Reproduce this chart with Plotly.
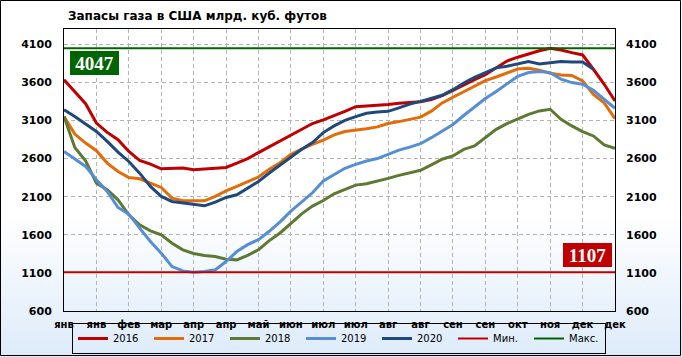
import plotly.graph_objects as go

# ---------------- data (weekly storage, Bcf) ----------------
tick_labels = ["янв", "янв", "фев", "мар", "апр", "апр", "май", "июн", "июл",
               "июл", "авг", "авг", "сен", "сен", "окт", "ноя", "дек", "дек"]

s2016 = [3635, 3482, 3320, 3066, 2943, 2847, 2694, 2576, 2527, 2466,
         2466, 2475, 2453, 2462, 2466, 2484, 2540, 2600, 2678, 2753,
         2832, 2911, 2985, 3060, 3108, 3161, 3218, 3280, 3288, 3297,
         3310, 3325, 3335, 3345, 3374, 3426, 3496, 3570, 3635, 3700,
         3795, 3880, 3930, 3975, 4015, 4047, 4025, 3990, 3960, 3772,
         3575, 3356]
s2017 = [3153, 2921, 2803, 2703, 2541, 2431, 2352, 2335, 2278, 2221,
         2081, 2046, 2046, 2046, 2103, 2177, 2234, 2300, 2358, 2459,
         2546, 2656, 2722, 2788, 2841, 2911, 2955, 2972, 2990, 3016,
         3060, 3085, 3115, 3143, 3222, 3330, 3404, 3474, 3548, 3622,
         3670, 3720, 3775, 3785, 3760, 3720, 3697, 3690, 3620, 3440,
         3330, 3125]
s2018 = [3153, 2746, 2571, 2278, 2190, 2059, 1862, 1731, 1652, 1599,
         1490, 1402, 1354, 1328, 1315, 1280, 1271, 1330, 1404, 1523,
         1624, 1756, 1875, 1976, 2050, 2138, 2195, 2252, 2270, 2300,
         2340, 2380, 2410, 2447, 2517, 2591, 2634, 2721, 2765, 2874,
         2984, 3059, 3116, 3181, 3225, 3247, 3116, 3028, 2954, 2897,
         2779, 2736]
s2019 = [2694, 2593, 2497, 2322, 2169, 1958, 1871, 1687, 1512, 1359,
         1183, 1126, 1107, 1118, 1140, 1249, 1380, 1470, 1537, 1646,
         1769, 1910, 2033, 2151, 2305, 2393, 2472, 2524, 2568, 2600,
         2660, 2710, 2750, 2795, 2874, 2960, 3048, 3165, 3274, 3387,
         3480, 3575, 3680, 3728, 3741, 3728, 3641, 3597, 3575, 3496,
         3378, 3260]
s2020 = [3241, 3153, 3053, 2956, 2825, 2685, 2562, 2409, 2234, 2103,
         2037, 2015, 1993, 1980, 2028, 2090, 2125, 2210, 2300, 2410,
         2516, 2621, 2722, 2810, 2941, 3029, 3100, 3150, 3195, 3210,
         3220, 3265, 3315, 3350, 3387, 3430, 3504, 3591, 3665, 3730,
         3790, 3811, 3846, 3872, 3840, 3855, 3872, 3868, 3868, 3772]
min_value = 1107
max_value = 4047

weeks = list(range(len(s2016)))
tick_weeks = weeks[::3]

series = [
    ("2016", s2016, "#C00000"),
    ("2017", s2017, "#E36C09"),
    ("2018", s2018, "#5E7A32"),
    ("2019", s2019, "#558ED5"),
    ("2020", s2020, "#1F497D"),
]

# ---------------- geometry helpers (pixels -> paper) ----------------
W, H = 682, 357
L, R, T, B = 64, 67, 29, 46
PW, PH = W - L - R, H - T - B


def px(x):
    return (x - L) / PW


def py(y):
    return (H - B - y) / PH


fig = go.Figure()
for name, vals, col in series:
    fig.add_trace(go.Scatter(x=weeks[:len(vals)], y=vals, name=name, mode="lines",
                             line=dict(color=col, width=3)))
fig.add_trace(go.Scatter(x=[weeks[0], weeks[-1]], y=[min_value, min_value], name="Мин.",
                         mode="lines", line=dict(color="#C00000", width=2)))
fig.add_trace(go.Scatter(x=[weeks[0], weeks[-1]], y=[max_value, max_value], name="Макс.",
                         mode="lines", line=dict(color="#006400", width=2)))
fig.add_trace(go.Scatter(x=[None], y=[None], yaxis="y2", showlegend=False,
                         hoverinfo="skip"))

# background gradient (white -> light blue at bottom)
shapes = []
top_c = (255, 255, 255)
bot_c = (221, 235, 250)
y0 = 215
step = 4
n = (H - y0) // step + 1
for i in range(n):
    ya = y0 + i * step
    yb = min(ya + step, H)
    t = (ya + step / 2 - y0) / (H - y0)
    t = max(0, min(1, t))
    c = tuple(int(round(top_c[k] + (bot_c[k] - top_c[k]) * t)) for k in range(3))
    shapes.append(dict(type="rect", xref="paper", yref="paper", layer="below",
                       x0=px(0), x1=px(W), y0=py(yb), y1=py(ya),
                       fillcolor="rgb(%d,%d,%d)" % c, line=dict(width=0)))
# outer border
shapes.append(dict(type="rect", xref="paper", yref="paper", layer="above",
                   x0=px(0.5), x1=px(680.5), y0=py(355.5), y1=py(0.5),
                   line=dict(color="#000000", width=1), fillcolor="rgba(0,0,0,0)"))

tick_font = dict(family="DejaVu Sans", size=11, color="#000000", weight="bold")
yticks = list(range(600, 4101, 500))

fig.update_layout(
    width=W, height=H,
    margin=dict(l=L, r=R, t=T, b=B, autoexpand=False),
    paper_bgcolor="#FFFFFF",
    plot_bgcolor="rgba(0,0,0,0)",
    title=dict(text="Запасы газа в США млрд. куб. футов",
               font=dict(family="DejaVu Sans", size=12, color="#000000", weight="bold"),
               x=68 / W, xanchor="left", xref="container",
               y=1 - 16 / H, yanchor="middle", yref="container"),
    xaxis=dict(range=[0, weeks[-1]], tickvals=tick_weeks, ticktext=tick_labels,
               tickfont=dict(family="DejaVu Sans", size=10, color="#000000", weight="bold"),
               showgrid=True, gridcolor="#B4B4B4", griddash="4px,3px", gridwidth=1,
               showline=True, linecolor="#000000", linewidth=1, mirror=True,
               ticks="", ticklabelstandoff=4, zeroline=False),
    yaxis=dict(range=[600, 4300], tickvals=yticks, tickfont=tick_font,
               showgrid=True, gridcolor="#B4B4B4", griddash="4px,3px", gridwidth=1,
               showline=True, linecolor="#000000", linewidth=1, mirror=True,
               ticks="", ticklabelstandoff=9, zeroline=False),
    yaxis2=dict(range=[600, 4300], tickvals=yticks, tickfont=tick_font,
                overlaying="y", side="right", showgrid=False, showline=False,
                ticks="", ticklabelstandoff=10, zeroline=False),
    legend=dict(orientation="h", x=px(72), xanchor="left", y=py(338.5), yanchor="middle",
                bordercolor="#000000", borderwidth=1, bgcolor="rgba(0,0,0,0)",
                font=dict(family="DejaVu Sans", size=10, color="#000000"),
                entrywidth=31, entrywidthmode="pixels", itemclick=False),
    shapes=shapes,
    showlegend=True,
)

label_font = dict(family="Liberation Serif", size=19, color="#FFFFFF", weight="bold")
fig.add_annotation(text=str(max_value), xref="paper", yref="paper",
                   x=px(94.5), y=py(63), xanchor="center", yanchor="middle",
                   showarrow=False, bgcolor="#006400", width=49, height=24,
                   borderpad=0, borderwidth=0, font=label_font)
fig.add_annotation(text=str(min_value), xref="paper", yref="paper",
                   x=px(587.5), y=py(255), xanchor="center", yanchor="middle",
                   showarrow=False, bgcolor="#C00000", width=49, height=24,
                   borderpad=0, borderwidth=0, font=label_font)

fig.write_html("out.html", config={"displayModeBar": False},
               post_script="document.body.style.margin='0px';")
